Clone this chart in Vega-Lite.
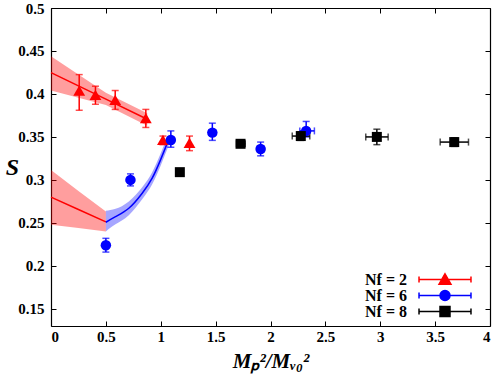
{
  "$schema": "https://vega.github.io/schema/vega-lite/v6.json",
  "autosize": "none",
  "width": 439,
  "height": 318,
  "padding": {"left": 51, "top": 8, "right": 10, "bottom": 56},
  "background": "white",
  "datasets": {
    "pts": [
      {"Nf": "2", "x": 0.257, "y": 0.404, "ylo": 0.381, "yhi": 0.4225},
      {"Nf": "2", "x": 0.405, "y": 0.399, "ylo": 0.388, "yhi": 0.409},
      {"Nf": "2", "x": 0.585, "y": 0.393, "ylo": 0.382, "yhi": 0.404},
      {"Nf": "2", "x": 0.864, "y": 0.372, "ylo": 0.361, "yhi": 0.382},
      {"Nf": "2", "x": 1.02, "y": 0.3465, "ylo": 0.341, "yhi": 0.351},
      {"Nf": "2", "x": 1.262, "y": 0.343, "ylo": 0.334, "yhi": 0.351},
      {"Nf": "6", "x": 0.5, "y": 0.224, "ylo": 0.216, "yhi": 0.232},
      {"Nf": "6", "x": 0.724, "y": 0.3, "ylo": 0.293, "yhi": 0.307},
      {"Nf": "6", "x": 1.092, "y": 0.3465, "ylo": 0.338, "yhi": 0.357},
      {"Nf": "6", "x": 1.47, "y": 0.355, "ylo": 0.346, "yhi": 0.366, "xlo": 1.44, "xhi": 1.5},
      {"Nf": "6", "x": 1.91, "y": 0.336, "ylo": 0.328, "yhi": 0.344, "xlo": 1.88, "xhi": 1.94},
      {"Nf": "6", "x": 2.325, "y": 0.357, "ylo": 0.35, "yhi": 0.368, "xlo": 2.267, "xhi": 2.4},
      {"Nf": "8", "x": 1.174, "y": 0.309, "ylo": 0.305, "yhi": 0.313},
      {"Nf": "8", "x": 1.727, "y": 0.342, "ylo": 0.338, "yhi": 0.346, "xlo": 1.69, "xhi": 1.77},
      {"Nf": "8", "x": 2.276, "y": 0.351, "ylo": 0.346, "yhi": 0.356, "xlo": 2.198, "xhi": 2.358},
      {"Nf": "8", "x": 2.969, "y": 0.35, "ylo": 0.341, "yhi": 0.359, "xlo": 2.868, "xhi": 3.072},
      {"Nf": "8", "x": 3.674, "y": 0.344, "ylo": 0.339, "yhi": 0.349, "xlo": 3.546, "xhi": 3.804}
    ],
    "fits": [
      {"seg": "r1", "x": 0, "y": 0.4248, "lo": 0.404, "hi": 0.444},
      {"seg": "r1", "x": 0.5, "y": 0.3939, "lo": 0.387, "hi": 0.4015},
      {"seg": "r1", "x": 0.877, "y": 0.3706, "lo": 0.363, "hi": 0.3775},
      {"seg": "r2", "x": 0, "y": 0.2799, "lo": 0.2477, "hi": 0.3116},
      {"seg": "r2", "x": 0.25, "y": 0.2655, "lo": 0.244, "hi": 0.287},
      {"seg": "r2", "x": 0.5, "y": 0.2512, "lo": 0.2399, "hi": 0.2632},
      {"seg": "b", "x": 0.5, "y": 0.2507, "lo": 0.24, "hi": 0.264},
      {"seg": "b", "x": 0.588, "y": 0.2573, "lo": 0.2483, "hi": 0.2663},
      {"seg": "b", "x": 0.709, "y": 0.267, "lo": 0.259, "hi": 0.275},
      {"seg": "b", "x": 0.831, "y": 0.2845, "lo": 0.2775, "hi": 0.2915},
      {"seg": "b", "x": 0.922, "y": 0.302, "lo": 0.295, "hi": 0.309},
      {"seg": "b", "x": 0.998, "y": 0.3233, "lo": 0.3163, "hi": 0.3303},
      {"seg": "b", "x": 1.07, "y": 0.346, "lo": 0.339, "hi": 0.353}
    ],
    "leg": [
      {"series": "Nf = 2"},
      {"series": "Nf = 6"},
      {"series": "Nf = 8"}
    ]
  },
  "resolve": {"axis": {"x": "independent", "y": "independent"}},
  "layer": [
    {
      "data": {"name": "fits"},
      "transform": [{"filter": "datum.seg !== 'b'"}],
      "mark": {"type": "area", "color": "#ff0000", "opacity": 0.38},
      "encoding": {
        "x": {"field": "x", "type": "quantitative", "scale": {"domain": [0, 4], "nice": false, "zero": false},
          "axis": {"orient": "bottom", "values": [0, 0.5, 1, 1.5, 2, 2.5, 3, 3.5, 4], "format": "~g", "title": "Mₚ²/Mᵥ₀²", "labelPadding": 8, "titlePadding": 6}},
        "y": {"field": "lo", "type": "quantitative", "scale": {"domain": [0.13, 0.5], "nice": false, "zero": false},
          "axis": {"orient": "left", "values": [0.15, 0.2, 0.25, 0.3, 0.35, 0.4, 0.45, 0.5], "format": "~g", "title": "S", "titleAngle": 0, "titleX": -39, "titleY": 159, "titleAlign": "center", "titleBaseline": "middle", "titleFontSize": 24, "labelPadding": 12}},
        "y2": {"field": "hi"},
        "detail": {"field": "seg"}
      }
    },
    {
      "data": {"name": "fits"},
      "transform": [{"filter": "datum.seg === 'b'"}],
      "mark": {"type": "area", "color": "#0000ff", "opacity": 0.35, "interpolate": "natural"},
      "encoding": {
        "x": {"field": "x", "type": "quantitative", "axis": null},
        "y": {"field": "lo", "type": "quantitative", "axis": null},
        "y2": {"field": "hi"}
      }
    },
    {
      "data": {"name": "fits"},
      "transform": [{"filter": "datum.seg !== 'b'"}],
      "mark": {"type": "line", "color": "#ff0000", "strokeWidth": 1.5},
      "encoding": {
        "x": {"field": "x", "type": "quantitative", "axis": null},
        "y": {"field": "y", "type": "quantitative", "axis": null},
        "detail": {"field": "seg"}
      }
    },
    {
      "data": {"name": "fits"},
      "transform": [{"filter": "datum.seg === 'b'"}],
      "mark": {"type": "line", "color": "#0000ff", "strokeWidth": 1.5, "interpolate": "natural"},
      "encoding": {
        "x": {"field": "x", "type": "quantitative", "axis": null},
        "y": {"field": "y", "type": "quantitative", "axis": null}
      }
    },
    {
      "data": {"name": "pts"},
      "mark": {"type": "rule", "strokeWidth": 1.5},
      "encoding": {
        "x": {"field": "x", "type": "quantitative", "axis": null},
        "y": {"field": "ylo", "type": "quantitative", "axis": null},
        "y2": {"field": "yhi"},
        "color": {"field": "Nf", "type": "nominal", "scale": {"domain": ["2", "6", "8"], "range": ["#ff0000", "#0000ff", "#000000"]}, "legend": null}
      }
    },
    {
      "data": {"name": "pts"},
      "mark": {"type": "tick", "orient": "horizontal", "size": 7, "thickness": 1.5},
      "encoding": {
        "x": {"field": "x", "type": "quantitative", "axis": null},
        "y": {"field": "ylo", "type": "quantitative", "axis": null},
        "color": {"field": "Nf", "type": "nominal", "legend": null}
      }
    },
    {
      "data": {"name": "pts"},
      "mark": {"type": "tick", "orient": "horizontal", "size": 7, "thickness": 1.5},
      "encoding": {
        "x": {"field": "x", "type": "quantitative", "axis": null},
        "y": {"field": "yhi", "type": "quantitative", "axis": null},
        "color": {"field": "Nf", "type": "nominal", "legend": null}
      }
    },
    {
      "data": {"name": "pts"},
      "transform": [{"filter": "isValid(datum.xlo)"}],
      "mark": {"type": "rule", "strokeWidth": 1.5},
      "encoding": {
        "x": {"field": "xlo", "type": "quantitative", "axis": null},
        "x2": {"field": "xhi"},
        "y": {"field": "y", "type": "quantitative", "axis": null},
        "color": {"field": "Nf", "type": "nominal", "legend": null}
      }
    },
    {
      "data": {"name": "pts"},
      "transform": [{"filter": "isValid(datum.xlo)"}],
      "mark": {"type": "tick", "orient": "vertical", "size": 7, "thickness": 1.5},
      "encoding": {
        "x": {"field": "xlo", "type": "quantitative", "axis": null},
        "y": {"field": "y", "type": "quantitative", "axis": null},
        "color": {"field": "Nf", "type": "nominal", "legend": null}
      }
    },
    {
      "data": {"name": "pts"},
      "transform": [{"filter": "isValid(datum.xlo)"}],
      "mark": {"type": "tick", "orient": "vertical", "size": 7, "thickness": 1.5},
      "encoding": {
        "x": {"field": "xhi", "type": "quantitative", "axis": null},
        "y": {"field": "y", "type": "quantitative", "axis": null},
        "color": {"field": "Nf", "type": "nominal", "legend": null}
      }
    },
    {
      "data": {"name": "pts"},
      "transform": [{"filter": "datum.Nf === '2'"}],
      "mark": {"type": "point", "shape": "triangle-up", "filled": true, "opacity": 1, "size": 140},
      "encoding": {
        "x": {"field": "x", "type": "quantitative", "axis": null},
        "y": {"field": "y", "type": "quantitative", "axis": null},
        "color": {"field": "Nf", "type": "nominal", "legend": null}
      }
    },
    {
      "data": {"name": "pts"},
      "transform": [{"filter": "datum.Nf === '6'"}],
      "mark": {"type": "point", "shape": "circle", "filled": true, "opacity": 1, "size": 110},
      "encoding": {
        "x": {"field": "x", "type": "quantitative", "axis": null},
        "y": {"field": "y", "type": "quantitative", "axis": null},
        "color": {"field": "Nf", "type": "nominal", "legend": null}
      }
    },
    {
      "data": {"name": "pts"},
      "transform": [{"filter": "datum.Nf === '8'"}],
      "mark": {"type": "point", "shape": "square", "filled": true, "opacity": 1, "size": 100},
      "encoding": {
        "x": {"field": "x", "type": "quantitative",
          "axis": {"orient": "top", "values": [0, 0.5, 1, 1.5, 2, 2.5, 3, 3.5, 4], "labels": false, "title": null}},
        "y": {"field": "y", "type": "quantitative",
          "axis": {"orient": "right", "values": [0.15, 0.2, 0.25, 0.3, 0.35, 0.4, 0.45, 0.5], "labels": false, "title": null}},
        "color": {"field": "Nf", "type": "nominal", "legend": null}
      }
    },
    {
      "data": {"name": "leg"},
      "transform": [{"filter": "false"}],
      "mark": {"type": "point", "filled": true, "opacity": 1, "size": 108, "strokeWidth": 1.5},
      "encoding": {
        "fill": {"field": "series", "type": "nominal", "scale": {"domain": ["Nf = 2", "Nf = 6", "Nf = 8"], "range": ["#ff0000", "#0000ff", "#000000"]},
          "legend": {"title": null, "orient": "none", "legendX": 386, "legendY": 263.5, "symbolSize": 108, "labelAlign": "right", "labelOffset": -46, "rowPadding": -0.5, "padding": 0, "labelFont": "Liberation Serif", "labelFontSize": 16, "labelFontWeight": "bold", "symbolStrokeWidth": 1.5,
            "encode": {"symbols": {"update": {"strokeWidth": {"value": 1.5}, "opacity": {"value": 1}}}}}},
        "stroke": {"field": "series", "type": "nominal", "scale": {"domain": ["Nf = 2", "Nf = 6", "Nf = 8"], "range": ["#ff0000", "#0000ff", "#000000"]},
          "legend": {"title": null, "orient": "none", "legendX": 386, "legendY": 263.5, "symbolSize": 108, "labelAlign": "right", "labelOffset": -46, "rowPadding": -0.5, "padding": 0, "labelFont": "Liberation Serif", "labelFontSize": 16, "labelFontWeight": "bold", "symbolStrokeWidth": 1.5,
            "encode": {"symbols": {"update": {"strokeWidth": {"value": 1.5}, "opacity": {"value": 1}}}}}},
        "shape": {"field": "series", "type": "nominal", "scale": {"domain": ["Nf = 2", "Nf = 6", "Nf = 8"], "range": [
          "M-5,0H5M-5,-0.6V0.6M5,-0.6V0.6M0,-1.1L1.15,0.9L-1.15,0.9Z",
          "M-5,0H5M-5,-0.6V0.6M5,-0.6V0.6M0.96,0A0.96,0.96 0 1,1 -0.96,0A0.96,0.96 0 1,1 0.96,0Z",
          "M-5,0H5M-5,-0.6V0.6M5,-0.6V0.6M-0.96,-0.96H0.96V0.96H-0.96Z"]},
          "legend": {"title": null, "orient": "none", "legendX": 386, "legendY": 263.5, "symbolSize": 108, "labelAlign": "right", "labelOffset": -46, "rowPadding": -0.5, "padding": 0, "labelFont": "Liberation Serif", "labelFontSize": 16, "labelFontWeight": "bold", "symbolStrokeWidth": 1.5,
            "encode": {"symbols": {"update": {"strokeWidth": {"value": 1.5}, "opacity": {"value": 1}}}}}}
      }
    }
  ],
  "config": {
    "view": {"stroke": null},
    "axis": {
      "grid": false,
      "domainColor": "#000000",
      "domainWidth": 1.2,
      "tickColor": "#000000",
      "tickSize": -5,
      "tickWidth": 1,
      "labelFont": "Liberation Serif",
      "labelFontSize": 15,
      "labelFontWeight": "bold",
      "labelColor": "#000000",
      "titleFont": "Liberation Serif",
      "titleFontSize": 21,
      "titleFontWeight": "bold",
      "titleFontStyle": "italic",
      "titleColor": "#000000"
    },
    "legend": {
      "labelFont": "Liberation Serif",
      "labelFontSize": 16,
      "labelFontWeight": "bold",
      "labelColor": "#000000"
    }
  }
}
